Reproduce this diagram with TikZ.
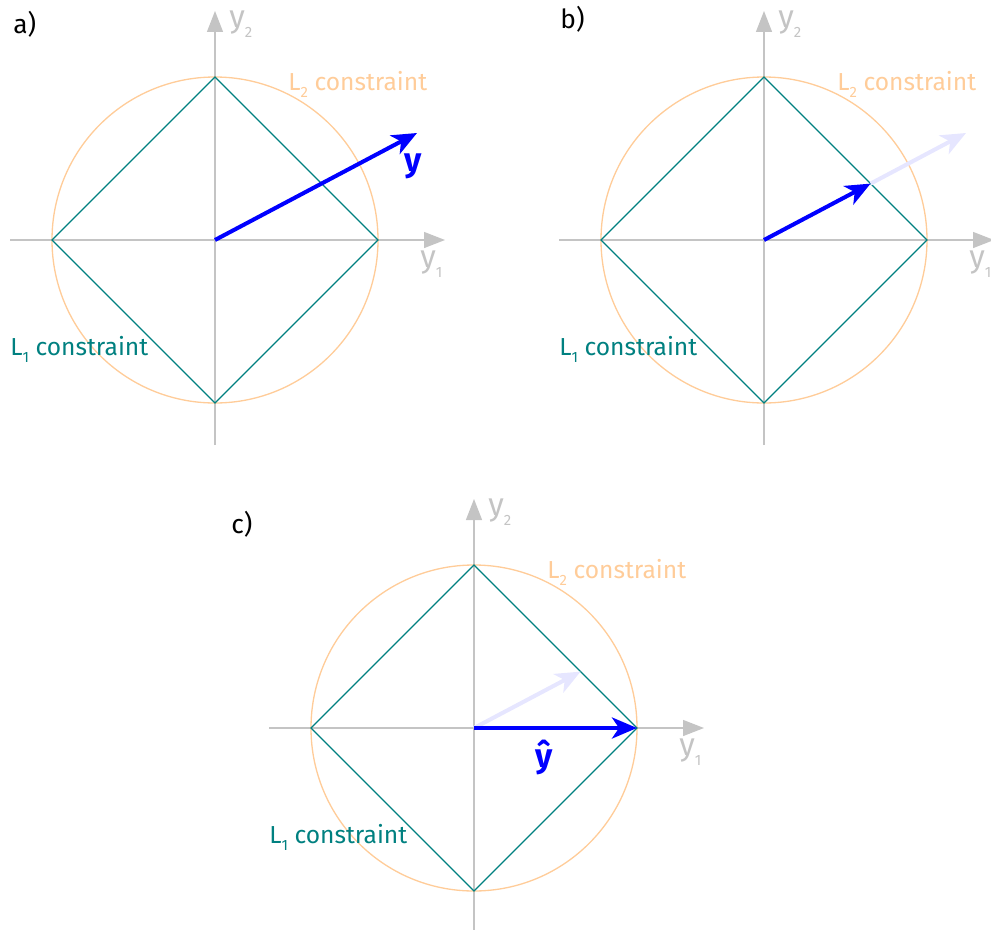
\documentclass[tikz,border=0pt]{standalone}
\usepackage{fontspec}
\setmainfont{Fira Sans}
\usetikzlibrary{positioning,arrows.meta}
\definecolor{ltwo}{HTML}{FFCC99}
\definecolor{lone}{HTML}{008080}
\definecolor{axisgray}{HTML}{C4C4C4}
\definecolor{ghost}{HTML}{E6E6FF}
\newcommand\lowsub[1]{\raisebox{-0.32em}{\fontsize{8.5}{8.5}\selectfont #1}}

\begin{document}
\begin{tikzpicture}[x=0.02cm, y=-0.02cm,
  axis/.style={draw=axisgray, line width=0.75pt,
               -{Triangle[length=0.42cm, width=0.32cm, fill=axisgray]}},
  lone line/.style={draw=lone, line width=0.75pt},
  ltwo line/.style={draw=ltwo, line width=0.75pt},
  vec/.style={draw=blue, line width=2.3pt,
              -{Stealth[length=0.5cm, width=0.42cm, inset=0.14cm]}},
  ghostvec/.style={vec, draw=ghost},
  txt/.style={inner sep=0pt, anchor=base west, font=\fontsize{14}{16}\selectfont},
  axlabel/.style={txt, text=axisgray, font=\fontsize{18}{20}\selectfont},
  ]
  \useasboundingbox (0,0) rectangle (991,930);

  % the three panels share axes, ball and diamond
  \foreach \p/\cx/\cy in {a/215/240, b/764/240, c/474/728}{
    \begin{scope}[shift={(\cx,\cy)}]
      \coordinate (\p-O) at (0,0);
      \coordinate (\p-E) at (163,0);
      \coordinate (\p-N) at (0,-163);
      \coordinate (\p-W) at (-163,0);
      \coordinate (\p-S) at (0,163);
      \coordinate (\p-xl) at (-205,0);
      \coordinate (\p-xr) at (230,0);
      \coordinate (\p-yb) at (0,205);
      \coordinate (\p-yt) at (0,-229);
      \draw[axis] (\p-xl) -- (\p-xr);
      \draw[axis] (\p-yb) -- (\p-yt);
      \draw[ltwo line] (\p-O) circle[radius=163];
      \draw[lone line] (\p-E) -- (\p-N) -- (\p-W) -- (\p-S) -- cycle;
      \node[axlabel] (\p-y2) at (14,-213) {y\lowsub{2}};
      \node[axlabel] (\p-y1) at (205,27) {y\lowsub{1}};
      \node[txt, text=ltwo] (\p-l2) at (73,-150) {L\lowsub{2} constraint};
      \node[txt, text=lone] (\p-l1) at (-205,115) {L\lowsub{1} constraint};
      \coordinate (\p-tip) at (202,-107);
      \coordinate (\p-hit) at (106.6,-56.4);
    \end{scope}
  }

  \node[txt, font=\fontsize{15}{17}\selectfont] (lab-a) at (13,33) {a)};
  \node[txt, font=\fontsize{15}{17}\selectfont] (lab-b) at (560,28) {b)};
  \node[txt, font=\fontsize{15}{17}\selectfont] (lab-c) at (231,533) {c)};

  % a) the raw vector
  \draw[vec] (a-O) -- (a-tip);
  \node[txt, text=blue, font=\bfseries\fontsize{19}{21}\selectfont] (ylab) at (404,171) {y};

  % b) shrunk onto the diamond
  \draw[ghostvec] (b-hit) -- (b-tip);
  \draw[vec] (b-O) -- (b-hit);

  % c) sparse solution at the corner
  \draw[ghostvec] (c-O) -- (c-hit);
  \draw[vec] (c-O) -- (c-E);
  \node[txt, text=blue, font=\bfseries\fontsize{19}{21}\selectfont] (yhat) at (535,767) {ŷ};
\end{tikzpicture}
\end{document}
